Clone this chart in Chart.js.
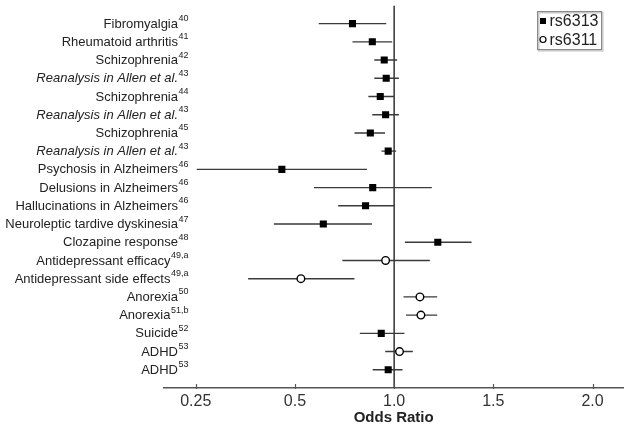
<!DOCTYPE html>
<html>
<head>
<meta charset="utf-8">
<script src="https://cdn.jsdelivr.net/npm/chart.js@4.4.1/dist/chart.umd.min.js"></script>
<style>
  html, body { margin: 0; padding: 0; background: #ffffff; }
  canvas { display: block; }
</style>
</head>
<body>
<canvas id="c" width="629" height="429"></canvas>
<script>
// ---------------- DATA ----------------
const categories = [
  'Fibromyalgia', 'Rheumatoid arthritis', 'Schizophrenia', 'Reanalysis in Allen et al.',
  'Schizophrenia', 'Reanalysis in Allen et al.', 'Schizophrenia', 'Reanalysis in Allen et al.',
  'Psychosis in Alzheimers', 'Delusions in Alzheimers', 'Hallucinations in Alzheimers',
  'Neuroleptic tardive dyskinesia', 'Clozapine response', 'Antidepressant efficacy',
  'Antidepressant side effects', 'Anorexia', 'Anorexia', 'Suicide', 'ADHD', 'ADHD'
];
const references = [
  '40', '41', '42', '43', '44', '43', '45', '43', '46', '46', '46', '47', '48',
  '49,a', '49,a', '50', '51,b', '52', '53', '53'
];
const italicLabel = [
  false, false, false, true, false, true, false, true, false, false, false, false, false,
  false, false, false, false, false, false, false
];
const variant = [
  'rs6313', 'rs6313', 'rs6313', 'rs6313', 'rs6313', 'rs6313', 'rs6313', 'rs6313',
  'rs6313', 'rs6313', 'rs6313', 'rs6313', 'rs6313', 'rs6311', 'rs6311', 'rs6311',
  'rs6311', 'rs6313', 'rs6311', 'rs6313'
];
const oddsRatio = [
  0.79, 0.89, 0.95, 0.96, 0.93, 0.957, 0.88, 0.97, 0.467, 0.892, 0.856, 0.643, 1.22,
  0.957, 0.53, 1.13, 1.135, 0.935, 1.027, 0.97
];
const ciLower = [
  0.62, 0.79, 0.90, 0.90, 0.87, 0.89, 0.80, 0.936, 0.2525, 0.596, 0.718, 0.447, 1.054,
  0.739, 0.382, 1.047, 1.06, 0.827, 0.955, 0.892
];
const ciUpper = [
  0.96, 0.99, 1.015, 1.024, 1.00, 1.024, 0.954, 1.01, 0.863, 1.19, 1.00, 0.888, 1.39,
  1.18, 0.80, 1.217, 1.217, 1.052, 1.094, 1.042
];
const tickValues = [0.25, 0.5, 1.0, 1.5, 2.0];
const tickLabels = ['0.25', '0.5', '1.0', '1.5', '2.0'];
const seriesNames = ['rs6313', 'rs6311'];

// ---------------- helpers ----------------
// the axis places its labelled odds ratios at equal steps; map an odds ratio onto that axis
function axisPos(v) {
  for (let i = 0; i < tickValues.length - 1; i++) {
    if (v <= tickValues[i + 1] || i === tickValues.length - 2) {
      return i + (v - tickValues[i]) / (tickValues[i + 1] - tickValues[i]);
    }
  }
}
const FONT = "'Liberation Sans', Arial, Helvetica, sans-serif";
const TEXT = '#222222';

const whiskers = [];
categories.forEach((c, i) => {
  whiskers.push({x: axisPos(ciLower[i]), y: i});
  whiskers.push({x: axisPos(ciUpper[i]), y: i});
  whiskers.push({x: null, y: null});
});
const pointsFor = name => categories.map((c, i) => variant[i] === name ? {x: axisPos(oddsRatio[i]), y: i} : null)
  .filter(p => p !== null);

const labelPlugin = {
  id: 'rowLabels',
  afterDraw(chart) {
    const ctx = chart.ctx;
    const ys = chart.scales.y;
    const xs = chart.scales.x;
    const right = 188.5;
    ctx.save();
    ctx.fillStyle = TEXT;
    ctx.textBaseline = 'middle';
    categories.forEach((c, i) => {
      const y = ys.getPixelForValue(i);
      ctx.font = '9px ' + FONT;
      const sw = ctx.measureText(references[i]).width;
      ctx.textAlign = 'left';
      ctx.fillText(references[i], right - sw, y - 5);
      ctx.font = (italicLabel[i] ? 'italic ' : '') + '13px ' + FONT;
      ctx.textAlign = 'right';
      ctx.fillText(c, right - sw - 0.5, y + 0.5);
    });
    // tick marks crossing the axis
    ctx.strokeStyle = '#555555';
    ctx.lineWidth = 1.2;
    const b = chart.chartArea.bottom;
    tickValues.forEach((t, i) => {
      const x = Math.round(xs.getPixelForValue(i)) + 0.5;
      ctx.beginPath();
      ctx.moveTo(x, b - 4);
      ctx.lineTo(x, b + 1);
      ctx.stroke();
    });
    // legend box
    const lx = 537.5, ly = 11.5, lw = 64, lh = 38;
    ctx.fillStyle = '#ffffff';
    ctx.fillRect(lx, ly, lw, lh);
    ctx.strokeStyle = '#c8c8c8';
    ctx.lineWidth = 2;
    ctx.strokeRect(lx + 1, ly + 1, lw, lh);
    ctx.strokeStyle = '#8a8a8a';
    ctx.lineWidth = 1;
    ctx.strokeRect(lx, ly, lw, lh);
    const rows = [ly + 9.5, ly + 28];
    seriesNames.forEach((name, k) => {
      const y = rows[k];
      const mx = lx + 5.5;
      if (k === 0) {
        ctx.fillStyle = '#000000';
        ctx.fillRect(mx - 3, y - 3, 6, 6);
      } else {
        ctx.beginPath();
        ctx.arc(mx, y, 3, 0, Math.PI * 2);
        ctx.fillStyle = '#ffffff';
        ctx.fill();
        ctx.strokeStyle = '#000000';
        ctx.lineWidth = 1.2;
        ctx.stroke();
      }
      ctx.fillStyle = TEXT;
      ctx.font = '16px ' + FONT;
      ctx.textAlign = 'left';
      ctx.textBaseline = 'middle';
      ctx.fillText(name, lx + 12, y + 1);
    });
    ctx.restore();
  }
};

new Chart(document.getElementById('c'), {
  data: {
    datasets: [
      {
        type: 'scatter', label: seriesNames[0], data: pointsFor(seriesNames[0]), order: 0,
        pointStyle: 'rect', pointRadius: 5, backgroundColor: '#000000', borderColor: '#000000', borderWidth: 0
      },
      {
        type: 'scatter', label: seriesNames[1], data: pointsFor(seriesNames[1]), order: 0,
        pointStyle: 'circle', pointRadius: 3.8, backgroundColor: '#ffffff', borderColor: '#000000', borderWidth: 1.4
      },
      {
        type: 'line', label: 'CI', data: whiskers, order: 1, spanGaps: false,
        borderColor: '#3a3a3a', borderWidth: 1.4, pointRadius: 0, fill: false
      },
      {
        type: 'line', label: 'ref', data: [{x: axisPos(1.0), y: -1}, {x: axisPos(1.0), y: 20}], order: 2,
        borderColor: '#333333', borderWidth: 1.5, pointRadius: 0, fill: false
      }
    ]
  },
  options: {
    responsive: false,
    animation: false,
    layout: { padding: { left: 164, right: 5.7, top: 3.4, bottom: 0 } },
    plugins: { legend: { display: false }, tooltip: { enabled: false } },
    scales: {
      x: {
        type: 'linear', min: -0.32, max: 4.31,
        afterBuildTicks: s => { s.ticks = tickValues.map((v, i) => ({ value: i })); },
        afterFit: s => { s.height = 41; },
        ticks: {
          callback: v => tickLabels[v], autoSkip: false, maxRotation: 0,
          font: { size: 16, family: FONT }, color: '#333333', padding: 4
        },
        grid: { display: false, drawTicks: false },
        border: { display: true, color: '#555555', width: 1.5 },
        title: {
          display: true, text: 'Odds Ratio', color: TEXT,
          font: { size: 15, weight: 'bold', family: FONT }, padding: { top: 0, bottom: 2 }
        }
      },
      y: { type: 'linear', reverse: true, min: -1, max: 20, display: false }
    }
  },
  plugins: [labelPlugin]
});
</script>
</body>
</html>
